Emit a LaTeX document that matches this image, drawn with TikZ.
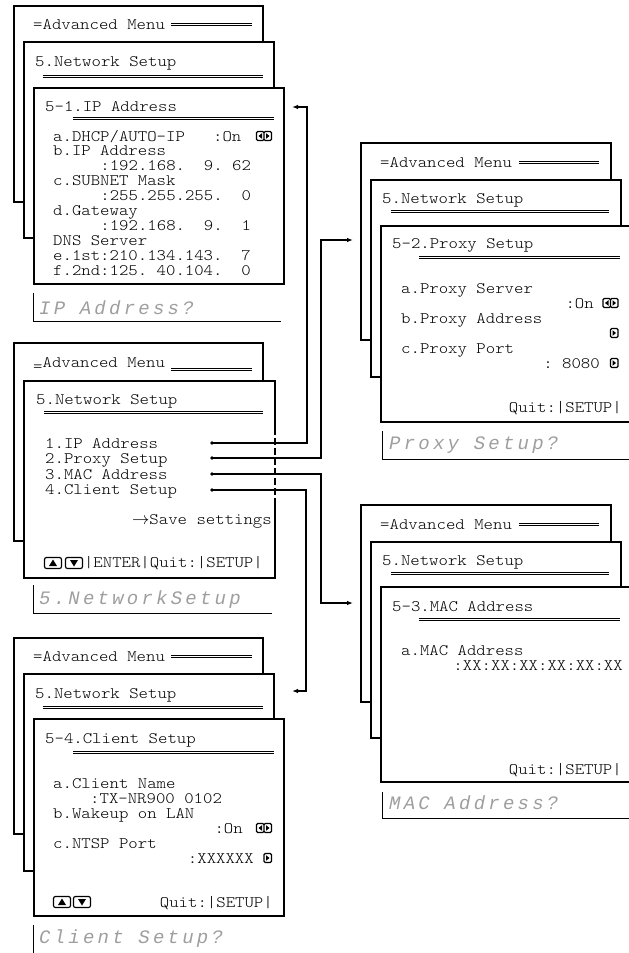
\documentclass[tikz,border=0pt]{standalone}
\usepackage{fontspec}
\usepackage{tikz}
\usetikzlibrary{arrows.meta}
\newfontfamily\lcdfont[LetterSpace=17]{Liberation Mono}
\newfontfamily\scrfont[FakeStretch=1.12]{lmmonolt10-regular.otf}

\tikzset{
  sheet/.style={draw, fill=white, line width=1.1pt},
  scr/.style={font=\scrfont\fontsize{16}{15}\selectfont\frenchspacing, inner sep=0pt, anchor=base west},
  scrr/.style={scr, anchor=base east},
  conn/.style={line width=1.1pt, -{Latex[length=6pt,width=4.5pt]}},
  jack/.style={circle, fill, inner sep=0pt, minimum size=3.6pt},
  prompt/.style={font=\lcdfont\itshape\fontsize{19}{19}\selectfont, text=black!38, inner sep=0pt, anchor=base west},
  lcdframe/.style={line width=0.9pt},
  twinbar/.pic={
    \draw[line width=0.8pt] (0,-1.1) -- (#1,-1.1) (0,1.1) -- (#1,1.1);
  },
  lrkey/.pic={
    \draw[line width=1.3pt, rounded corners=1.2pt] (-7.5,-4.5) rectangle (0,4.5) (0,-4.5) rectangle (7.5,4.5);
    \fill (-2,-2.8) -- (-5.5,0) -- (-2,2.8) -- cycle;
    \fill (2,-2.8) -- (5.5,0) -- (2,2.8) -- cycle;
  },
  rkey/.pic={
    \draw[line width=1.3pt, rounded corners=1.2pt] (0,-4.5) rectangle (7.5,4.5);
    \fill (2,-2.8) -- (5.5,0) -- (2,2.8) -- cycle;
  },
  upkey/.pic={
    \draw[line width=1.2pt, rounded corners=2pt] (-8.5,-5.5) rectangle (8.5,5.5);
    \fill (0,3.5) -- (4,-3) -- (-4,-3) -- cycle;
  },
  downkey/.pic={
    \draw[line width=1.2pt, rounded corners=2pt] (-8.5,-5.5) rectangle (8.5,5.5);
    \fill (0,-3.5) -- (4,3) -- (-4,3) -- cycle;
  },
}

\begin{document}
\begin{tikzpicture}[x=1pt,y=1pt,yscale=-1]
        \useasboundingbox (0,0) rectangle (629,953);

        %% ---- 5-1 IP Address ----
        %Shape: Rectangle [back sheet]
        \draw[sheet] (14,6) rectangle (263,202);
        \node[scr] (ipAdv) at (33,29) {=Advanced Menu};
        \pic at (171,24) {twinbar=81};
        %Shape: Rectangle [middle sheet]
        \draw[sheet] (24,42) rectangle (274,238);
        \node[scr] (ipNet) at (35,66) {5.Network Setup};
        \pic at (43,76) {twinbar=220};
        %Shape: Rectangle [front sheet]
        \draw[sheet] (34,88) rectangle (284,284);
        \node[scr] (ipTitle) at (45,111) {5-1.IP Address};
        \pic at (73,118) {twinbar=201};
        % Text Node
        \node[scr] (ipA) at (53,141) {a.DHCP/AUTO-IP~~~:On};
        \pic at (264,136) {lrkey};
        \node[scr] (ipB) at (53,155.9) {b.IP Address};
        \node[scr] (ipBv) at (100.2,170.8) {:192.168.~~9.~62};
        \node[scr] (ipC) at (53,185.7) {c.SUBNET Mask};
        \node[scr] (ipCv) at (100.2,200.6) {:255.255.255.~~0};
        \node[scr] (ipD) at (53,215.5) {d.Gateway};
        \node[scr] (ipDv) at (100.2,230.4) {:192.168.~~9.~~1};
        \node[scr] (ipDns) at (53,245.3) {DNS Server};
        \node[scr] (ipE) at (53,260.2) {e.1st:210.134.143.~~7};
        \node[scr] (ipF) at (53,275.1) {f.2nd:125.~40.104.~~0};
        % prompt
        \draw[lcdframe] (33,293) |- (281,321);
        \node[prompt] (ipAsk) at (39,314) {IP Address?};

        %% ---- 5 Network Setup ----
        \draw[sheet] (14,343) rectangle (263,541);
        \node[scr] (nsAdv) at (33,367) {\raisebox{-4pt}{=}Advanced Menu};
        \pic at (171,369) {twinbar=81};
        \draw[sheet] (24,381) rectangle (275,578);
        \draw[white, line width=2pt] (275,428) -- (275,503);
        \draw[line width=1.1pt, dash pattern=on 7pt off 3pt] (275,428) -- (275,503);
        \node[scr] (nsNet) at (36,404) {5.Network Setup};
        \pic at (44,412) {twinbar=219};
        \node[scr] (nsIp) at (45,448) {1.IP Address};
        \node[scr] (nsProxy) at (45,463) {2.Proxy Setup};
        \node[scr] (nsMac) at (45,479) {3.MAC Address};
        \node[scr] (nsClient) at (45,494) {4.Client Setup};
        \node[scrr] (nsSave) at (272,524) {$\rightarrow$Save settings};
        \pic at (53,563) {upkey};
        \pic at (74,563) {downkey};
        \node[scrr] (nsKeys) at (263,567) {|ENTER|Quit:|SETUP|};
        \draw[lcdframe] (33,585) |- (272,613);
        \node[prompt] (nsAsk) at (39,604) {5.NetworkSetup};

        %% ---- 5-2 Proxy Setup ----
        \draw[sheet] (361,143) rectangle (611,340);
        \node[scr] (pxAdv) at (380,167) {=Advanced Menu};
        \pic at (519,162) {twinbar=80};
        \draw[sheet] (371,180) rectangle (621,377);
        \node[scr] (pxNet) at (382,203) {5.Network Setup};
        \pic at (391,211) {twinbar=218};
        \draw[sheet] (381,226) rectangle (631,422);
        \node[scr] (pxTitle) at (392,248) {5-2.Proxy Setup};
        \pic at (419,257) {twinbar=201};
        \node[scr] (pxA) at (401,293) {a.Proxy Server};
        \node[scrr] (pxAv) at (594,308) {:On};
        \pic at (610.5,303) {lrkey};
        \node[scr] (pxB) at (401,323) {b.Proxy Address};
        \pic at (610.5,333) {rkey};
        \node[scr] (pxC) at (401,353) {c.Proxy Port};
        \node[scrr] (pxCv) at (600,368) {:~8080};
        \pic at (610.5,363) {rkey};
        \node[scrr] (pxQuit) at (622,412) {Quit:|SETUP|};
        \draw[lcdframe] (382,431) |- (631,459);
        \node[prompt] (pxAsk) at (389,449) {Proxy Setup?};

        %% ---- 5-3 MAC Address ----
        \draw[sheet] (361,505) rectangle (611,702);
        \node[scr] (macAdv) at (380,529) {=Advanced Menu};
        \pic at (519,524) {twinbar=80};
        \draw[sheet] (371,542) rectangle (621,738);
        \node[scr] (macNet) at (382,565) {5.Network Setup};
        \pic at (391,573) {twinbar=218};
        \draw[sheet] (381,587) rectangle (631,782);
        \node[scr] (macTitle) at (392,611) {5-3.MAC Address};
        \pic at (419,619) {twinbar=201};
        \node[scr] (macA) at (401,655) {a.MAC Address};
        \node[scrr] (macAv) at (623,670) {:XX:XX:XX:XX:XX:XX};
        \node[scrr] (macQuit) at (622,774) {Quit:|SETUP|};
        \draw[lcdframe] (382,792) |- (631,818);
        \node[prompt] (macAsk) at (389,809) {MAC Address?};

        %% ---- 5-4 Client Setup ----
        \draw[sheet] (14,638) rectangle (263,834);
        \node[scr] (clAdv) at (33,661) {=Advanced Menu};
        \pic at (171,656) {twinbar=81};
        \draw[sheet] (24,674) rectangle (274,871);
        \node[scr] (clNet) at (35,698) {5.Network Setup};
        \pic at (43,707) {twinbar=220};
        \draw[sheet] (34,719) rectangle (284,916);
        \node[scr] (clTitle) at (45,743) {5-4.Client Setup};
        \pic at (73,752) {twinbar=201};
        \node[scr] (clA) at (53,788) {a.Client Name};
        \node[scr] (clAv) at (90,803) {:TX-NR900~0102};
        \node[scr] (clB) at (53,818) {b.Wakeup on LAN};
        \node[scrr] (clBv) at (243,833) {:On};
        \pic at (264,828) {lrkey};
        \node[scr] (clC) at (53,848) {c.NTSP Port};
        \node[scrr] (clCv) at (254,863) {:XXXXXX};
        \pic at (264,858) {rkey};
        \pic at (62,902) {upkey};
        \pic at (82,902) {downkey};
        \node[scrr] (clQuit) at (273,907) {Quit:|SETUP|};
        \draw[lcdframe] (33,925) -- (33,955);
        \node[prompt] (clAsk) at (39,943) {Client Setup?};

        %% ---- connectors ----
        \node[jack] (d1) at (212,443) {};
        \node[jack] (d2) at (212,458) {};
        \node[jack] (d3) at (212,474) {};
        \node[jack] (d4) at (212,490) {};
        \coordinate (k1) at (307,107);
        \coordinate (a1) at (292,107);
        \coordinate (k2) at (321,240);
        \coordinate (a2) at (353,240);
        \coordinate (k3) at (321,603);
        \coordinate (a3) at (353,603);
        \coordinate (k4) at (306,691);
        \coordinate (a4) at (292,691);
        \draw[conn] (d1.center) -| (k1) -- (a1);
        \draw[conn] (d2.center) -| (k2) -- (a2);
        \draw[conn] (d3.center) -| (k3) -- (a3);
        \draw[conn] (d4.center) -| (k4) -- (a4);

\end{tikzpicture}
\end{document}
